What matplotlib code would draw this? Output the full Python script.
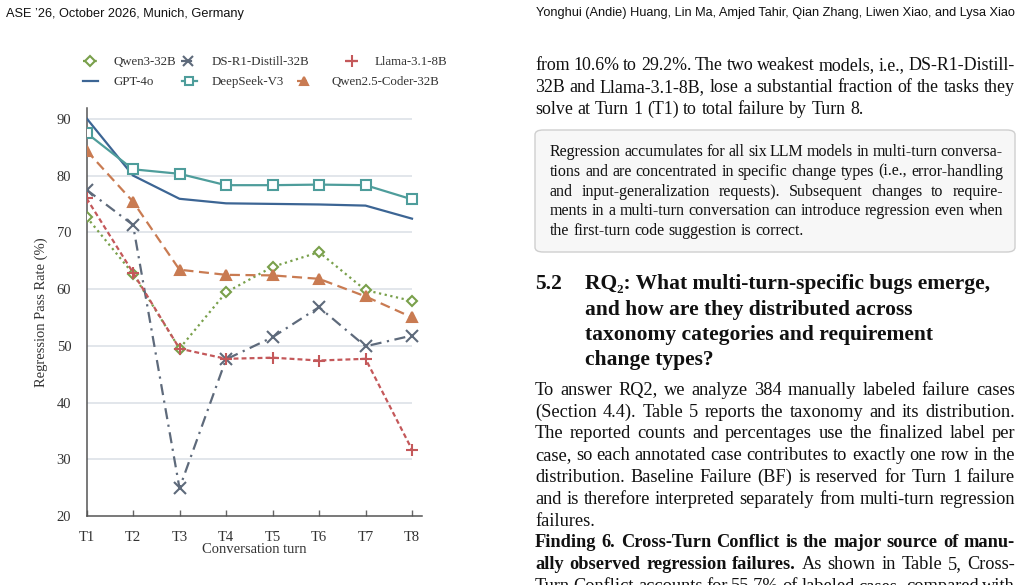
import matplotlib
matplotlib.use('Agg')
import matplotlib.pyplot as plt
from matplotlib.lines import Line2D
from matplotlib.patches import FancyBboxPatch

# chart data
turns = ['T1', 'T2', 'T3', 'T4', 'T5', 'T6', 'T7', 'T8']
qwen3 = [72.7, 62.7, 49.5, 59.4, 63.9, 66.5, 59.8, 57.9]
ds_r1 = [77.5, 71.3, 24.9, 47.6, 51.5, 56.8, 49.9, 51.8]
llama = [76.0, 62.9, 49.5, 47.7, 47.9, 47.4, 47.7, 31.7]
gpt4o = [90.1, 80.0, 75.9, 75.1, 75.0, 74.9, 74.7, 72.4]
deepseek = [87.5, 81.1, 80.3, 78.3, 78.3, 78.4, 78.3, 75.8]
qwen25 = [84.4, 75.4, 63.4, 62.5, 62.4, 61.8, 58.7, 55.0]
yticks = [20, 30, 40, 50, 60, 70, 80, 90]

SERIF = ['Liberation Serif', 'DejaVu Serif']
SANS = ['Liberation Sans', 'DejaVu Sans']
W, H = 1024, 585

fig = plt.figure(figsize=(W / 100, H / 100), dpi=100)
renderer = fig.canvas.get_renderer()

def fx(x):
    return x / W

def fy(y):
    return 1 - y / H

# series styles: label, data, color, linestyle, marker, markersize, filled
series = [
    ('Qwen3-32B', qwen3, '#79a04b', (0, (1, 1.6)), 'D', 5.5, False),
    ('DS-R1-Distill-32B', ds_r1, '#5e6a7b', (0, (5, 2.5, 1, 2.5)), 'x', 8.5, True),
    ('Llama-3.1-8B', llama, '#c4585a', (0, (2.2, 1.4)), '+', 9, True),
    ('GPT-4o', gpt4o, '#3c6594', '-', None, 0, True),
    ('DeepSeek-V3', deepseek, '#4e9d9b', '-', 's', 7, False),
    ('Qwen2.5-Coder-32B', qwen25, '#c97b52', (0, (4.5, 2.5)), '^', 6.5, True),
]

ax = fig.add_axes([fx(86.5), 1 - 516 / H, (422 - 86.5) / W, (516 - 108) / H])
x = list(range(len(turns)))
for label, vals, col, ls, mk, ms, filled in series:
    ax.plot(x, vals, color=col, ls=ls, lw=1.6, marker=mk, ms=ms,
            mfc=col if filled else 'white', mec=col, mew=1.5, zorder=3)

ax.set_xlim(0, 7.215)
ax.set_ylim(20, 91.9)
ax.set_yticks(yticks)
ax.hlines(yticks[1:], 0, 7, color='#dde1e7', lw=1.2, zorder=1)
ax.set_xticks(x)
ax.set_xticklabels(turns, family=SERIF, fontsize=10.5, color='#333333')
ax.set_yticklabels([str(v) for v in yticks], family=SERIF, fontsize=10.5, color='#333333')
ax.tick_params(axis='x', direction='in', length=4.5, width=1, color='#666666', pad=11)
ax.tick_params(axis='y', length=0, pad=11)
for s in ['top', 'right']:
    ax.spines[s].set_visible(False)
for s in ['left', 'bottom']:
    ax.spines[s].set_color('#555555')
    ax.spines[s].set_linewidth(1.1)
ax.set_xlabel('Conversation turn', family=SERIF, fontsize=10.5, color='#333333', labelpad=-1)
ax.set_ylabel('Regression Pass Rate (%)', family=SERIF, fontsize=10.5, color='#333333', labelpad=6)

# legend, laid out like the pgfplots one
leg_pos = {
    'Qwen3-32B': (90, 61, 114),
    'DS-R1-Distill-32B': (188, 61, 212),
    'Llama-3.1-8B': (352, 61, 375),
    'GPT-4o': (90, 80.5, 114),
    'DeepSeek-V3': (189, 80.5, 212),
    'Qwen2.5-Coder-32B': (304, 80.5, 331),
}
for label, vals, col, ls, mk, ms, filled in series:
    mx, my, tx = leg_pos[label]
    h = Line2D([fx(mx - 7.5), fx(mx), fx(mx + 7.5)], [fy(my)] * 3, transform=fig.transFigure,
               color=col, ls=ls, lw=1.6, marker=mk, ms=ms * 0.9, markevery=[1],
               mfc=col if filled else 'white', mec=col, mew=1.5)
    fig.add_artist(h)
    fig.text(fx(tx), fy(my + 4.3), label, family=SERIF, fontsize=9.3, color='#333333', va='baseline')


def text_width(s, size, weight='normal', family=SERIF):
    t = fig.text(0, 0, s, fontsize=size, fontweight=weight, family=family)
    w = t.get_window_extent(renderer).width
    t.remove()
    return w


def words_of(segments):
    out = []
    for txt, bold in segments:
        for w in txt.split():
            out.append((w, 'bold' if bold else 'normal'))
    return out


def put_line(segments, x0, x1, y, size, justify=True):
    words = words_of(segments)
    widths = [text_width(w, size, wt) for w, wt in words]
    space = text_width('x x', size) - text_width('xx', size)
    gap = space
    if justify and len(words) > 1:
        gap = (x1 - x0 - sum(widths)) / (len(words) - 1)
    xc = x0
    for (w, wt), wd in zip(words, widths):
        fig.text(fx(xc), fy(y), w, fontsize=size, fontweight=wt, family=SERIF,
                 color='#111111', va='baseline')
        xc += wd + gap


def fit_size(lines, width, size):
    # shrink the font if a justified line would not fit with normal spaces
    best = size
    for segs, just in lines:
        if not just:
            continue
        words = words_of(segs)
        nat = sum(text_width(w, 10, wt) for w, wt in words)
        nat += (len(words) - 1) * (text_width('x x', 10) - text_width('xx', 10)) * 0.85
        best = min(best, 10 * width / nat)
    return best


def paragraph(lines, x0, x1, y0, step, size):
    size = fit_size(lines, x1 - x0, size)
    for i, (segs, just) in enumerate(lines):
        put_line(segs, x0, x1, y0 + i * step, size, just)


# page header
fig.text(fx(6.5), fy(16.5), 'ASE \u201926, October 2026, Munich, Germany', family=SANS,
         fontsize=9.2, color='#111111', va='baseline')
fig.text(fx(1015), fy(15.8), 'Yonghui (Andie) Huang, Lin Ma, Amjed Tahir, Qian Zhang, Liwen Xiao, and Lysa Xiao',
         family=SANS, fontsize=9.2, color='#111111', va='baseline', ha='right')

p1 = [
    ([('from 10.6% to 29.2%. The two weakest models, i.e., DS-R1-Distill-', False)], True),
    ([('32B and Llama-3.1-8B, lose a substantial fraction of the tasks they', False)], True),
    ([('solve at Turn 1 (T1) to total failure by Turn 8.', False)], False),
]
paragraph(p1, 535, 1015, 70.5, 21.75, 13.2)

box = FancyBboxPatch((fx(535), fy(252)), fx(1015) - fx(535), fy(130) - fy(252),
                     boxstyle='round,pad=0,rounding_size=0.008', transform=fig.transFigure,
                     facecolor='#f7f7f7', edgecolor='#cfcfcf', lw=1.0)
fig.add_artist(box)
p_box = [
    ([('Regression accumulates for all six LLM models in multi-turn conversa-', False)], True),
    ([('tions and are concentrated in specific change types (i.e., error-handling', False)], True),
    ([('and input-generalization requests). Subsequent changes to require-', False)], True),
    ([('ments in a multi-turn conversation can introduce regression even when', False)], True),
    ([('the first-turn code suggestion is correct.', False)], False),
]
paragraph(p_box, 550, 1003, 156, 19.8, 12)

heading = [
    'RQ\u2082: What multi-turn-specific bugs emerge,',
    'and how are they distributed across',
    'taxonomy categories and requirement',
    'change types?',
]
fig.text(fx(535), fy(289.3), '5.2', family=SERIF, fontsize=15.5, fontweight='bold',
         color='#111111', va='baseline')
for i, line in enumerate(heading):
    fig.text(fx(585), fy(289.3 + i * 25.3), line, family=SERIF, fontsize=15.5,
             fontweight='bold', color='#111111', va='baseline')

p2 = [
    ([('To answer RQ2, we analyze 384 manually labeled failure cases', False)], True),
    ([('(Section 4.4). Table 5 reports the taxonomy and its distribution.', False)], True),
    ([('The reported counts and percentages use the finalized label per', False)], True),
    ([('case, so each annotated case contributes to exactly one row in the', False)], True),
    ([('distribution. Baseline Failure (BF) is reserved for Turn 1 failure', False)], True),
    ([('and is therefore interpreted separately from multi-turn regression', False)], True),
    ([('failures.', False)], False),
    ([('Finding 6. Cross-Turn Conflict is the major source of manu-', True)], True),
    ([('ally observed regression failures.', True), ('As shown in Table 5, Cross-', False)], True),
    ([('Turn Conflict accounts for 55.7% of labeled cases, compared with', False)], True),
]
paragraph(p2, 535, 1015, 395, 21.75, 13.2)

fig.savefig('out.png', dpi=100)
